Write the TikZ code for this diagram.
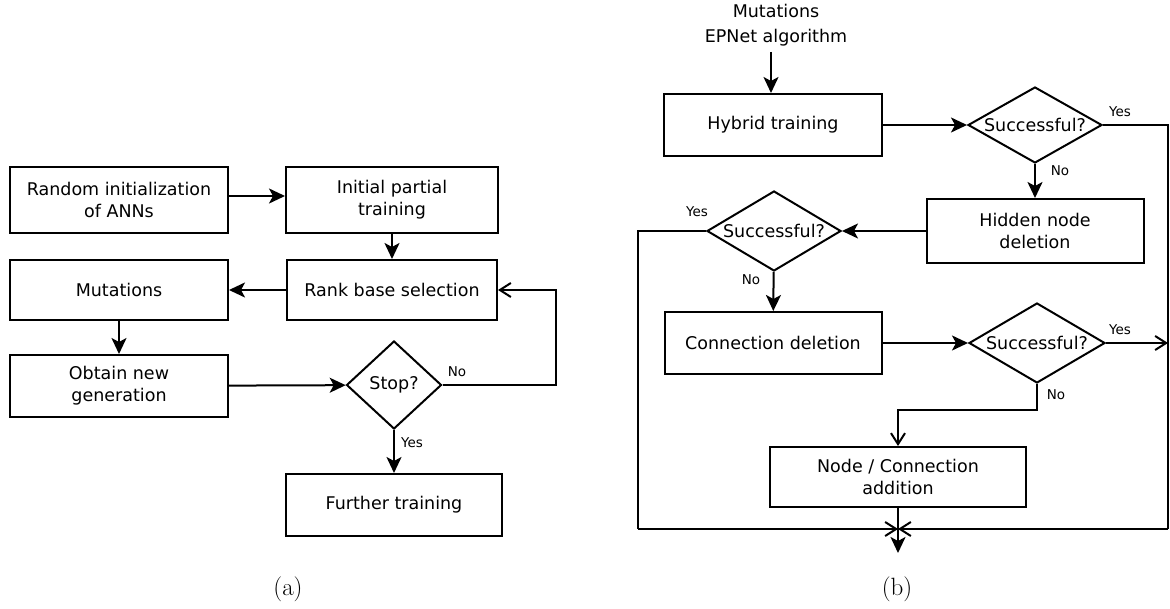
\documentclass[tikz,border=0pt]{standalone}
\usepackage{fontspec}
\newfontfamily\dv{DejaVu Sans}
\usetikzlibrary{arrows.meta,shapes.geometric}
\begin{document}
\begin{tikzpicture}[x=1pt,y=-1pt,
  box/.style={draw, line width=2pt, align=center, inner sep=2pt, font=\dv\fontsize{17.5}{22}\selectfont},
  dec/.style={draw, diamond, line width=2pt, inner sep=0pt, font=\dv\fontsize{17.5}{22}\selectfont},
  lbl/.style={font=\dv\fontsize{13.5}{16}\selectfont, inner sep=0pt},
  captxt/.style={font=\fontsize{25}{30}\selectfont, inner sep=0pt},
  arr/.style={line width=2pt, -{Stealth[length=16pt,width=15pt,inset=4pt]}},
  oarr/.style={line width=2pt, -{Straight Barb[length=11pt,width=14pt,line width=2pt]}},
  ln/.style={line width=2pt}
]
\useasboundingbox (0,0) rectangle (1170,609);
% ---------- (a) ----------
\node[box, minimum width=218pt, minimum height=66pt] (a1) at (119,200) {Random initialization\\of ANNs};
\node[box, minimum width=212pt, minimum height=66pt] (a2) at (392,200) {Initial partial\\training};
\node[box, minimum width=210pt, minimum height=60pt] (a3) at (392,290) {Rank base selection};
\node[box, minimum width=218pt, minimum height=60pt] (a4) at (119,290) {Mutations};
\node[box, minimum width=218pt, minimum height=62pt] (a5) at (119,386) {Obtain new\\generation};
\node[dec, aspect=1, minimum width=95pt, minimum height=88pt] (ds) at (394,385) {Stop?};
\node[box, minimum width=216pt, minimum height=62pt] (a6) at (394,505) {Further training};
\coordinate (ar) at (556,385);
\draw[arr] ([yshift=4pt]a1.east) -- ([yshift=4pt]a2.west);
\draw[arr] (a2) -- (a3);
\draw[arr] (a3) -- (a4);
\draw[arr] (a4) -- (a5);
\draw[arr] (a5) -- (ds);
\draw[oarr] (ds.east) -- (ar) |- (a3.east);
\draw[arr] (ds) -- (a6);
\node[lbl] (ano) at (457,372) {No};
\node[lbl] (ayes) at (412,443) {Yes};
\node[captxt] (capa) at (288,589) {(a)};
% ---------- (b) ----------
\node[font=\dv\fontsize{17.5}{25}\selectfont, align=center, inner sep=0pt] (t) at (776,25) {Mutations\\EPNet algorithm};
\node[box, minimum width=218pt, minimum height=62pt] (b1) at (773,125) {Hybrid training};
\node[dec, aspect=1.7, minimum width=134pt, minimum height=76pt] (d1) at (1035,125) {Successful?};
\node[box, minimum width=217pt, minimum height=64pt] (b2) at (1035,231) {Hidden node\\deletion};
\node[dec, aspect=1.7, minimum width=134pt, minimum height=80pt] (d2) at (774,231) {Successful?};
\node[box, minimum width=217pt, minimum height=62pt] (b3) at (773,343) {Connection deletion};
\node[dec, aspect=1.7, minimum width=136pt, minimum height=80pt] (d3) at (1037,343) {Successful?};
\node[box, minimum width=256pt, minimum height=60pt] (b4) at (898,477) {Node / Connection\\addition};
\coordinate (ts) at (771,52);
\coordinate (r1) at (1168,125);
\coordinate (r2) at (1168,529);
\coordinate (l1) at (638,231);
\coordinate (l2) at (638,529);
\coordinate (j) at (898,529);
\coordinate (bot) at (898,553);
\coordinate (y3) at (1168,343);
\coordinate (n3) at (1037,410);
\draw[arr] (ts) -- (b1.north -| ts);
\draw[arr] (b1) -- (d1);
\draw[ln] (d1.east) -- (r1) -- (r2);
\draw[oarr] (r2) -- (j);
\draw[arr] (d1) -- (b2);
\draw[arr] (b2) -- (d2);
\draw[ln] (d2.west) -- (l1) -- (l2);
\draw[oarr] (l2) -- (j);
\draw[arr] (d2) -- (b3);
\draw[arr] (b3) -- (d3);
\draw[oarr] (d3.east) -- (y3);
\draw[oarr] (d3.south) -- (n3) -| (b4.north);
\draw[arr] (b4.south) -- (bot);
\node[lbl] (y1) at (1120,112) {Yes};
\node[lbl] (n1) at (1060,171) {No};
\node[lbl] (y2) at (697,212) {Yes};
\node[lbl] (n2) at (751,280) {No};
\node[lbl] (y3l) at (1120,330) {Yes};
\node[lbl] (n3l) at (1056,395) {No};
\node[captxt] (capb) at (897,589) {(b)};
\end{tikzpicture}
\end{document}
